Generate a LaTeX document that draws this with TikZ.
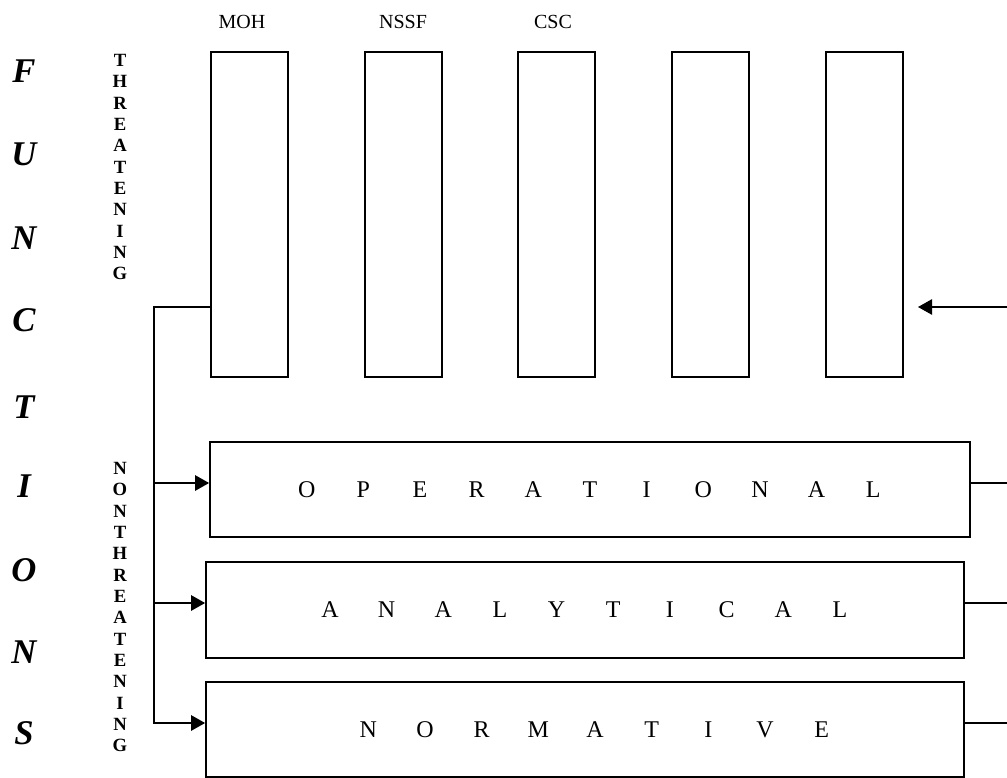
\documentclass[tikz,border=0pt]{standalone}
\usepackage{fontspec}
\setmainfont{Liberation Serif}
\usetikzlibrary{arrows.meta}
\newcommand\lsp[1]{\makebox[42.5pt]{#1}}
\begin{document}
\begin{tikzpicture}[x=0.75pt,y=-0.75pt,
  box/.style={draw, line width=1.3pt, inner sep=0pt},
  conn/.style={line width=1.2pt},
  arr/.style={conn, -{Triangle[length=10.5pt,width=11.5pt]}},
  lbl/.style={font=\fontsize{15}{18}\selectfont, inner sep=0pt},
  fl/.style={font=\fontsize{26}{30}\selectfont\bfseries\itshape, inner sep=0pt},
  vt/.style={font=\fontsize{14}{16}\selectfont\bfseries, align=center, inner sep=0pt, anchor=north},
  wide/.style={font=\fontsize{18}{22}\selectfont}]
\useasboundingbox (0,0) rectangle (1007,778);

% tall boxes
\foreach \i/\cx in {1/249.5, 2/403.5, 3/556.5, 4/710.5, 5/864.5}
  \node[box, minimum width=57.75pt, minimum height=243.75pt] (b\i) at (\cx,214.5) {};

% labels
\node[lbl] (moh) at (242,22) {MOH};
\node[lbl] (nssf) at (403,22) {NSSF};
\node[lbl] (csc) at (553,22) {CSC};

% FUNCTIONS
\foreach \l/\y [count=\k] in {F/71, U/154, N/238, C/320, T/407, I/486, O/570, N/652, S/733}
  \node[fl] (f\k) at (24,\y) {\l};

% vertical words
\node[vt] (thr) at (120,54) {T\\H\\R\\E\\A\\T\\E\\N\\I\\N\\G};
\node[vt] (nthr) at (120,462) {N\\O\\N\\T\\H\\R\\E\\A\\T\\E\\N\\I\\N\\G};

% wide boxes
\node[box, wide, minimum width=570pt, minimum height=71.25pt] (op) at (590,489.5)
  {\lsp O\lsp P\lsp E\lsp R\lsp A\lsp T\lsp I\lsp O\lsp N\lsp A\lsp L};
\node[box, wide, minimum width=568.5pt, minimum height=72pt] (an) at (585,610)
  {\lsp A\lsp N\lsp A\lsp L\lsp Y\lsp T\lsp I\lsp C\lsp A\lsp L};
\node[box, wide, minimum width=568.5pt, minimum height=71.25pt] (no) at (585,729.5)
  {\hspace{15pt}\lsp N\lsp O\lsp R\lsp M\lsp A\lsp T\lsp I\lsp V\lsp E};

% left connectors
\coordinate (j) at (154,307);
\coordinate (jb) at (154,723);
\coordinate (a1) at (154,483);
\coordinate (a2) at (154,603);
\draw[arr] (b1.west |- j) -- (j) -- (jb) -- (jb -| no.west);
\draw[arr] (a1) -- (a1 -| op.west);
\draw[arr] (a2) -- (a2 -| an.west);

% right connectors
\coordinate (r0) at (1007,307);
\coordinate (t0) at (918,307);
\draw[arr] (r0) -- (t0);
\coordinate (r1) at (1007,483);
\coordinate (r2) at (1007,603);
\coordinate (r3) at (1007,723);
\draw[conn] (op.east |- r1) -- (r1);
\draw[conn] (an.east |- r2) -- (r2);
\draw[conn] (no.east |- r3) -- (r3);
\end{tikzpicture}
\end{document}
